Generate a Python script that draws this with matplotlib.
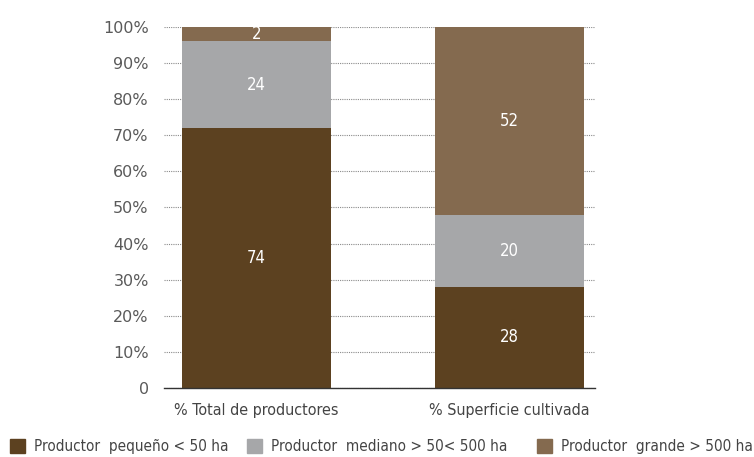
import matplotlib
matplotlib.use("Agg")
import matplotlib.pyplot as plt
from matplotlib.patches import Patch

# -----------------------------
# Data
# -----------------------------
categories = ["% Total de productores", "% Superficie cultivada"]
# bar heights as drawn in the picture
pequeno = [72, 28]
mediano = [24, 20]
grande = [4, 52]
# value labels printed on the bars
pequeno_lbl = ["74", "28"]
mediano_lbl = ["24", "20"]
grande_lbl = ["2", "52"]
series_labels = [
    "Productor  pequeño < 50 ha",
    "Productor  mediano > 50< 500 ha",
    "Productor  grande > 500 ha",
]
ytick_vals = [0, 10, 20, 30, 40, 50, 60, 70, 80, 90, 100]
ytick_labels = ["0", "10%", "20%", "30%", "40%", "50%", "60%", "70%", "80%", "90%", "100%"]

# -----------------------------
# Color Theme
# -----------------------------
DARK_BROWN = "#5C4120"
GREY = "#A6A7A9"
LIGHT_BROWN = "#846A4F"
TEXT_COLOR = "#5A5A5A"
LABEL_COLOR = "#444444"
GRID_COLOR = "#8A8A8A"

NARROW = dict(family="DejaVu Sans", stretch="condensed")

fig = plt.figure(figsize=(7.54, 4.57), dpi=100)
ax = fig.add_axes([0.2175, 0.151, 0.5715, 0.790])

x = list(range(len(categories)))
width = 0.59
colors = [DARK_BROWN, GREY, LIGHT_BROWN]
bottoms = [0] * len(categories)
for vals, lbls, col in zip([pequeno, mediano, grande],
                           [pequeno_lbl, mediano_lbl, grande_lbl], colors):
    bars = ax.bar(x, vals, width=width, bottom=bottoms, color=col, zorder=2)
    for bar, v, b, t in zip(bars, vals, bottoms, lbls):
        ax.text(bar.get_x() + bar.get_width() / 2, b + v / 2, t,
                ha="center", va="center", color="white", fontsize=12,
                zorder=3, **NARROW)
    bottoms = [b + v for b, v in zip(bottoms, vals)]

ax.set_xlim(-0.366, 1.34)
ax.set_ylim(0, 100)
ax.set_yticks(ytick_vals)
ax.set_yticklabels(ytick_labels, color=TEXT_COLOR, fontsize=11.5)
ax.set_xticks(x)
ax.set_xticklabels(categories, color=LABEL_COLOR, fontsize=11.5, **NARROW)
ax.tick_params(axis="y", length=0, pad=11)
ax.tick_params(axis="x", length=0, pad=11)

ax.grid(axis="y", color=GRID_COLOR, linestyle=(0, (1, 1)), linewidth=0.8, zorder=0)
for side in ["top", "right", "left"]:
    ax.spines[side].set_visible(False)
ax.spines["bottom"].set_color("#333333")
ax.spines["bottom"].set_linewidth(1.0)

# legend entries are spread unevenly along the bottom, one legend each
legend_x = [10 / 754, 247 / 754, 537 / 754]
for lx, col, lab in zip(legend_x, colors, series_labels):
    leg = fig.legend([Patch(color=col)], [lab], loc="center left",
                     bbox_to_anchor=(lx, 0.022), frameon=False,
                     borderpad=0, borderaxespad=0,
                     handlelength=1.0, handleheight=1.0, handletextpad=0.55,
                     prop={"family": "DejaVu Sans", "stretch": "condensed", "size": 11},
                     labelcolor=LABEL_COLOR)

fig.savefig("out.png", dpi=100)
